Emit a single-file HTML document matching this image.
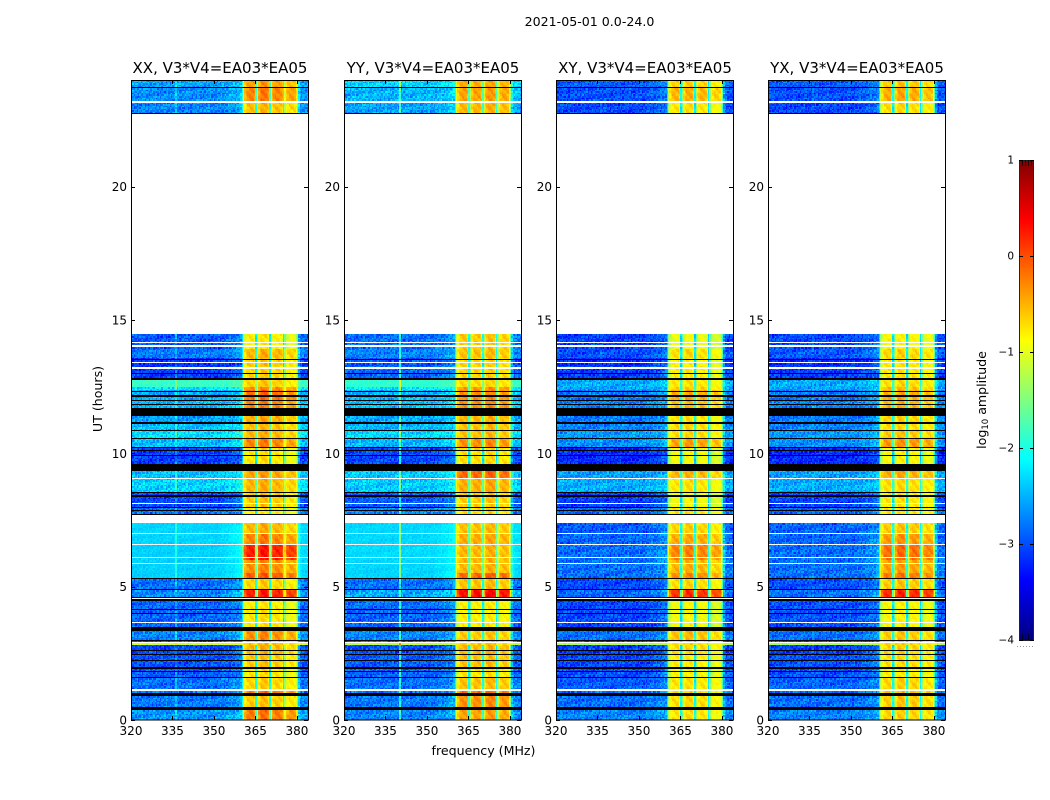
<!DOCTYPE html>
<html>
<head>
<meta charset="utf-8">
<title>2021-05-01 0.0-24.0</title>
<style>
html,body{margin:0;padding:0;background:#fff;}
#figure{position:relative;width:1050px;height:800px;overflow:hidden;background:#fff;font-family:"DejaVu Sans","Liberation Sans",sans-serif;}
canvas{position:absolute;image-rendering:pixelated;}
svg{position:absolute;left:0;top:0;}
text{fill:#000;font-family:"DejaVu Sans","Liberation Sans",sans-serif;}
</style>
</head>
<body>
<div id="figure"></div>
<script>
// ---------- chart data ----------
const polarizations = ['XX','YY','XY','YX'];
const xTickValues = [320,335,350,365,380];
const yTickValues = [0,5,10,15,20];
const colorTickValues = [1,0,-1,-2,-3,-4];

// UT hour at which each level zone starts
const levelHours = [0,0.48,1.0,1.15,1.6,2.0,2.45,2.8,2.87,3.0,3.5,4.18,4.6,4.91,5.3,5.5,6.0,6.6,7.0,7.7,8.0,8.5,9.09,9.6,10.2,10.55,10.88,11.19,11.69,11.99,12.34,12.5,12.82,13.25,13.57,13.92,22.77,23.2,23.73];

// log10 amplitude outside the passband, per zone
const bgXX = [-2.65,-2.8,-2.8,-2.85,-2.95,-3.0,-3.05,-1.1,-2.95,-2.75,-2.9,-2.9,-2.7,-2.85,-2.35,-2.35,-2.35,-2.33,-2.33,-2.85,-3.05,-2.35,-2.45,-3.1,-2.45,-2.3,-2.45,-2.6,-2.5,-2.55,-2.25,-1.85,-3.1,-3.15,-2.8,-2.95,-2.75,-2.7,-2.6];
const bgYY = [-2.75,-2.8,-2.8,-2.85,-2.9,-2.95,-3.0,-1.2,-2.85,-2.75,-2.9,-2.85,-2.55,-2.85,-2.33,-2.33,-2.3,-2.32,-2.32,-2.75,-2.95,-2.4,-2.4,-3.05,-2.5,-2.35,-2.5,-2.55,-2.45,-2.5,-2.25,-1.9,-2.9,-3.0,-2.75,-2.85,-2.6,-2.5,-2.35];
const bgXY = [-2.75,-2.85,-2.85,-2.95,-3.0,-3.05,-3.1,-1.3,-3.05,-2.85,-3.05,-3.05,-2.9,-3.05,-2.85,-2.85,-2.85,-2.9,-2.95,-2.9,-3.1,-2.55,-2.6,-3.2,-2.7,-2.65,-2.75,-2.8,-2.75,-2.8,-2.6,-2.55,-3.1,-3.2,-3.0,-3.1,-3.05,-3.0,-2.95];
const bgYX = [-2.75,-2.85,-2.85,-2.9,-3.0,-3.0,-3.1,-1.3,-3.0,-2.85,-3.0,-3.0,-2.85,-3.0,-2.85,-2.85,-2.85,-2.9,-2.9,-2.9,-3.05,-2.55,-2.6,-3.2,-2.7,-2.65,-2.75,-2.8,-2.75,-2.8,-2.6,-2.55,-3.1,-3.2,-2.95,-3.05,-3.05,-3.0,-2.95];

// log10 amplitude inside the passband, per zone
const bandXX = [-0.2,-0.6,-0.2,-0.65,-0.75,-0.6,-0.5,-0.6,-0.65,-0.3,-0.75,-0.8,0.25,-0.65,-0.05,-0.3,0.25,-0.25,-0.5,-0.8,-0.6,-0.5,-0.4,-0.75,-0.25,-0.5,-0.55,-0.45,-0.25,-0.15,-0.3,-0.65,-0.65,-0.6,-0.5,-0.8,-0.55,-0.25,-0.4];
const bandYY = [-0.4,-0.3,-0.15,-0.55,-0.75,-0.55,-0.5,-0.65,-0.7,-0.6,-0.8,-0.8,0.35,-0.55,-0.1,-0.5,-0.5,-0.45,-0.55,-0.7,-0.6,-0.45,-0.1,-0.7,-0.3,-0.55,-0.55,-0.5,-0.3,-0.3,-0.35,-0.7,-0.65,-0.65,-0.55,-0.6,-0.5,-0.4,-0.45];
const bandXY = [-0.75,-0.7,-0.7,-0.75,-0.85,-0.8,-0.7,-0.75,-0.8,-0.55,-0.9,-0.9,0.15,-0.7,-0.3,-0.5,-0.25,-0.45,-0.65,-0.75,-0.9,-0.75,-0.5,-0.9,-0.4,-0.7,-0.7,-0.75,-0.55,-0.45,-0.65,-0.75,-0.8,-0.85,-0.7,-0.95,-0.75,-0.5,-0.65];
const bandYX = [-0.65,-0.6,-0.55,-0.65,-0.8,-0.7,-0.65,-0.7,-0.75,-0.6,-0.85,-0.85,0.2,-0.6,-0.2,-0.4,-0.15,-0.35,-0.6,-0.75,-0.75,-0.7,-0.45,-0.85,-0.35,-0.6,-0.7,-0.65,-0.5,-0.45,-0.55,-0.7,-0.75,-0.75,-0.65,-0.85,-0.7,-0.45,-0.6];

// level offset of the four sub-bands (360-365, 365-370, 370-375, 375-380)
const subbandXX = [0,0.08,0,-0.15];
const subbandYY = [0,0,0.05,-0.05];
const subbandXY = [0,0.05,0,-0.15];
const subbandYX = [0,0.05,0,-0.1];

// passband weight for each half-MHz channel from 320 to 383.5
const passWeight = [
0,0,0,0,0,0,0,0,0,0,0,0,0,0,0,0,
0,0,0,0,0,0,0,0,0,0,0,0,0,0,0,0,
0,0,0,0,0,0,0,0,0,0,0,0,0,0,0,0,
0,0,0,0,0,0,0,0,0,0,0,0,0,0,0,0,
0.01,0.01,0.02,0.02,0.03,0.03,0.04,0.04,0.05,0.05,0.06,0.07,0.08,0.08,0.1,0.12,
0.3,0.72,0.88,0.94,0.98,1,1,1,1,0.95,0.36,0.6,0.9,0.96,1,1,
1,1,0.97,0.92,0.36,0.7,0.9,0.96,1,1,1,1,0.97,0.92,0.36,0.7,
0.9,0.96,1,1,1,1,0.97,0.85,0.55,0.2,0.06,0.03,0.02,0.02,0.01,0.01];

// narrow RFI channel per polarization (MHz) and its boost
const rfiChannel = [336,340,336,336];
const rfiBoost = [0.35,0.85,0.1,0.1];

// UT window where the parallel hands (XX, YY) have a smooth background
const smoothHours = [5.3,7.7];
const smoothPolarizations = ['XX','YY'];

// flagged time spans in UT hours: [start, end]
const blackSpans = [[0.375,0.475],[0.9,1.0],[1.575,1.61],[1.8,1.85],[1.93,1.97],[2.21,2.25],[2.42,2.46],[2.59,2.625],[2.96,3.0],[3.35,3.5],[3.975,4.01],[4.14,4.18],[4.46,4.53],[4.56,4.6],[4.875,4.91],[5.29,5.325],[7.675,7.725],[7.84,7.875],[7.96,8.0],[8.38,8.44],[8.5,8.56],[9.34,9.61],[9.9,9.94],[10.1,10.14],[10.2,10.25],[10.52,10.57],[10.85,10.88],[11.1,11.19],[11.4,11.69],[11.8,11.84],[11.95,11.99],[12.13,12.17],[12.3,12.34],[12.75,12.82],[12.975,13.0],[13.5,13.54],[22.73,22.77],[23.7,23.73]];
const whiteSpans = [[1.1,1.15],[2.87,2.925],[3.65,3.68],[4.53,4.56],[5.85,5.9],[6.07,6.12],[6.55,6.6],[6.98,7.03],[7.4,7.675],[8.1,8.14],[9.05,9.09],[13.17,13.25],[13.375,13.425],[14.0,14.05],[14.125,14.175],[14.475,22.73],[23.14,23.2]];

// hand-typed channel texture
const speckleA = [0.6,-0.8,0.1,0.9,-0.4,-1,0.3,0.7,-0.6,0.2,-0.2,1,-0.9,0.4,-0.5,0.8,-0.1,-0.7,0.5,0,-0.3,0.9,-1,0.6,0.2,-0.6,0.7,-0.4,0.1,-0.8,1,-0.2,0.3,-0.9,0.5,0.8,-0.5,-0.1,0.4,-0.7,0.9,0,-0.3,0.6,-1,0.2,0.7];
const speckleB = [-0.5,0.8,-0.2,0.3,-0.9,0.6,0.1,-0.7,1,-0.4,0.4,-0.1,0.7,-1,0.2,0.5,-0.6,0.9,-0.3,0,-0.8,0.6,0.3,-0.5,0.8,-0.2,-0.9,0.4,0.1,-0.6,0.7];
const hatch = [1,0.6,0,-0.6,-1,-0.2];

const levelTables = {
  XX:{bg:bgXX,band:bandXX,sub:subbandXX},
  YY:{bg:bgYY,band:bandYY,sub:subbandYY},
  XY:{bg:bgXY,band:bandXY,sub:subbandXY},
  YX:{bg:bgYX,band:bandYX,sub:subbandYX}
};

// ---------- axis functions ----------
const panelLefts = [131,344,556,768];
const panelWidth = 177, panelTop = 80, panelHeight = 640;
const freqMin = 320, freqMax = 384, hourMax = 24;
const xScale = (mhz) => (mhz - freqMin) / (freqMax - freqMin) * panelWidth;
const yScale = (hour) => panelHeight * (1 - hour / hourMax);
const cbLeft = 1019, cbTop = 160, cbWidth = 15, cbHeight = 480;
const cbScale = (v) => cbTop + (1 - v) / 5 * cbHeight;

function jet(v){
  const t = Math.max(0, Math.min(1, (v + 4) / 5));
  const ramp = (c) => Math.max(0, Math.min(1, 1.5 - Math.abs(4 * t - c)));
  return [Math.round(255 * ramp(3)), Math.round(255 * ramp(2)), Math.round(255 * ramp(1))];
}
function zoneAt(hour){
  let z = 0;
  for (let i = 0; i < levelHours.length; i++) { if (hour >= levelHours[i]) z = i; }
  return z;
}

const fig = document.getElementById('figure');
const SVGNS = 'http://www.w3.org/2000/svg';
const svg = document.createElementNS(SVGNS, 'svg');
svg.setAttribute('width', 1050);
svg.setAttribute('height', 800);



function node(tag, attrs, parent){
  const el = document.createElementNS(SVGNS, tag);
  for (const k in attrs) el.setAttribute(k, attrs[k]);
  (parent || svg).appendChild(el);
  return el;
}
function label(str, x, y, size, anchor, parent){
  const el = node('text', {x:x, y:y, 'font-size':size, 'text-anchor':anchor}, parent);
  el.textContent = str;
  return el;
}
function minusText(v){ return v < 0 ? '\u2212' + Math.abs(v) : String(v); }

// ---------- heatmap panels ----------
const channelStep = 0.5, rowStep = 0.06;
polarizations.forEach((pol, p) => {
  const left = panelLefts[p];
  const canvas = document.createElement('canvas');
  
  
  canvas.width = panelWidth;
  canvas.height = panelHeight;
  canvas.style.left = left + 'px';
  canvas.style.top = panelTop + 'px';
  fig.appendChild(canvas);
  const ctx = canvas.getContext('2d');
  ctx.fillStyle = '#fff';
  ctx.fillRect(0, 0, panelWidth, panelHeight);

  const tables = levelTables[pol];
  const rows = Math.ceil(hourMax / rowStep);
  const chans = Math.round((freqMax - freqMin) / channelStep);
  for (let r = 0; r < rows; r++) {
    const hour = r * rowStep;
    const z = zoneAt(hour + rowStep / 2);
    const bg = tables.bg[z], band = tables.band[z];
    const smooth = smoothPolarizations.includes(pol) && hour >= smoothHours[0] && hour < smoothHours[1];
    const grainScale = (smooth || bg > -2) ? 0.35 : 1;
    const yA = Math.round(yScale(hour + rowStep)), yB = Math.round(yScale(hour));
    for (let c = 0; c < chans; c++) {
      const f = freqMin + c * channelStep;
      const w = passWeight[c] || 0;
      const sb = (f >= 360 && f < 380) ? tables.sub[Math.floor((f - 360) / 5)] : 0;
      let value = bg + (band + sb - bg) * w;
      const sA = speckleA[(c * 5 + r * 7 + p * 3) % speckleA.length];
      const sB = speckleB[(c * 3 + r * 11 + p * 5) % speckleB.length];
      const hh = hatch[(c + r) % hatch.length];
      if (w < 0.3) {
        value += grainScale * (0.24 * sA + 0.13 * sB);
        if (f === rfiChannel[p]) value += rfiBoost[p];
      } else {
        value += 0.1 * hh + 0.05 * sA;
      }
      const rgb = jet(value);
      ctx.fillStyle = 'rgb(' + rgb.join(',') + ')';
      const xA = Math.round(xScale(f)), xB = Math.round(xScale(f + channelStep));
      ctx.fillRect(xA, yA, xB - xA, yB - yA);
    }
  }
  function paintSpans(spans, color){
    ctx.fillStyle = color;
    spans.forEach((s) => {
      const top = Math.round(yScale(s[1]));
      const h = Math.max(1, Math.round(yScale(s[0])) - top);
      ctx.fillRect(0, top, panelWidth, h);
    });
  }
  paintSpans(whiteSpans, '#fff');
  paintSpans(blackSpans, '#000');

  // frame, ticks, labels
  const g = node('g', {});
  
  
  const frame = node('rect', {x:left + 0.5, y:panelTop + 0.5, width:panelWidth, height:panelHeight - 0.5, fill:'none', stroke:'#000', 'stroke-width':1}, g);
  
  

  xTickValues.forEach((v) => {
    const x = Math.round(left + xScale(v)) + 0.5;
    const t1 = node('line', {x1:x, x2:x, y1:panelTop + panelHeight, y2:panelTop + panelHeight - 4, stroke:'#000'}, g);
    
    
    const t2 = node('line', {x1:x, x2:x, y1:panelTop, y2:panelTop + 4, stroke:'#000'}, g);
    
    
    const tl = label(String(v), left + xScale(v), 735, 12, 'middle', g);
    
    
  });
  yTickValues.forEach((v) => {
    const y = Math.round(panelTop + yScale(v)) + 0.5;
    const t1 = node('line', {x1:left, x2:left + 4, y1:y, y2:y, stroke:'#000'}, g);
    
    
    const t2 = node('line', {x1:left + panelWidth, x2:left + panelWidth - 4, y1:y, y2:y, stroke:'#000'}, g);
    
    
    const tl = label(String(v), left - 4, panelTop + yScale(v) + 4.5, 12, 'end', g);
    
    
  });
  const title = label(pol + ', V3*V4=EA03*EA05', left + panelWidth / 2 + 0.5, 73, 15, 'middle', g);
  
  
});

// ---------- colorbar ----------
const cb = document.createElement('canvas');


cb.width = cbWidth;
cb.height = cbHeight;
cb.style.left = cbLeft + 'px';
cb.style.top = cbTop + 'px';
fig.appendChild(cb);
const cbCtx = cb.getContext('2d');
for (let i = 0; i < cbHeight; i++) {
  const rgb = jet(1 - (i + 0.5) / cbHeight * 5);
  cbCtx.fillStyle = 'rgb(' + rgb.join(',') + ')';
  cbCtx.fillRect(0, i, cbWidth, 1);
}
const cbGroup = node('g', {});


const cbFrame = node('rect', {x:cbLeft + 0.5, y:cbTop + 0.5, width:cbWidth - 1, height:cbHeight, fill:'none', stroke:'#222', 'stroke-width':1}, cbGroup);


colorTickValues.forEach((v) => {
  const y = Math.round(cbScale(v)) + 0.5;
  const a = node('line', {x1:cbLeft, x2:cbLeft + 4, y1:y, y2:y, stroke:'#000'}, cbGroup);
  
  
  const b = node('line', {x1:cbLeft + cbWidth - 4, x2:cbLeft + cbWidth, y1:y, y2:y, stroke:'#000'}, cbGroup);
  
  
  const tl = label(minusText(v), cbLeft - 5, cbScale(v) + 3.5, 10.5, 'end', cbGroup);
  
  
});
[3,6,9,12].forEach((dx) => {
  const x = cbLeft + dx + 0.5;
  const m1 = node('line', {x1:x, x2:x, y1:cbTop, y2:cbTop + 6, stroke:'#000', 'stroke-opacity':0.7}, cbGroup);
  
  
  const m2 = node('line', {x1:x, x2:x, y1:cbTop + cbHeight - 6, y2:cbTop + cbHeight, stroke:'#000', 'stroke-opacity':0.7}, cbGroup);
  
  
});
const dots = node('line', {x1:1017, x2:1035, y1:646.5, y2:646.5, stroke:'#999', 'stroke-width':1, 'stroke-dasharray':'1 2'}, cbGroup);



// ---------- figure labels ----------
const supTitle = label('2021-05-01 0.0-24.0', 589.5, 26, 12.6, 'middle');


const xTitle = label('frequency (MHz)', 483.5, 755, 12.6, 'middle');


const yTitle = label('UT (hours)', 0, 0, 12.6, 'middle');
yTitle.setAttribute('transform', 'translate(102,399) rotate(-90)');


const cTitle = node('text', {'font-size':12.6, 'text-anchor':'middle', transform:'translate(986,400) rotate(-90)'});


cTitle.appendChild(document.createTextNode('log'));
const sub = node('tspan', {'font-size':8.5, dy:2}, cTitle);
sub.textContent = '10';
const rest = node('tspan', {dy:-2}, cTitle);
rest.textContent = ' amplitude';

fig.appendChild(svg);
</script>
</body>
</html>
